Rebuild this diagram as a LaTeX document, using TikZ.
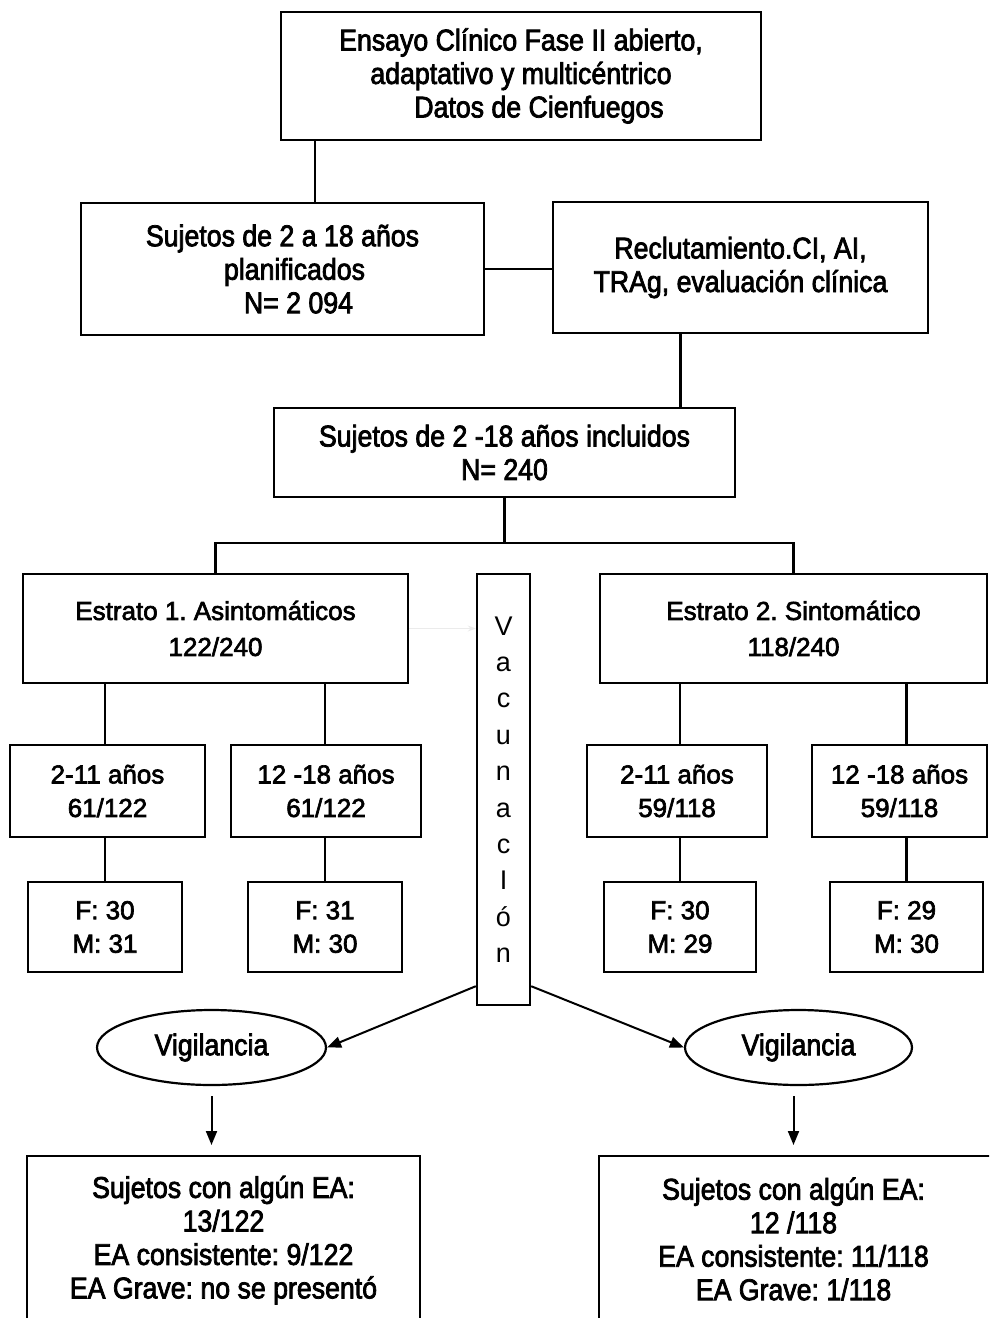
\documentclass[tikz,border=0pt]{standalone}
\usepackage{fontspec}
\setmainfont{Liberation Sans}
\newfontfamily\condf[FakeStretch=0.89,FakeBold=2.5]{Liberation Sans}
\newfontfamily\medf[FakeBold=2.5]{Liberation Sans}
\usetikzlibrary{arrows.meta,shapes.geometric}
\frenchspacing
\begin{document}
\begin{tikzpicture}[x=1pt,y=-1pt,
  box/.style={draw, line width=2.4pt, align=center, inner sep=0pt},
  tfont/.style={font=\condf\fontsize{30}{33.5}\selectfont},
  lfont/.style={font=\medf\fontsize{26}{33.5}\selectfont},
  efont/.style={font=\medf\fontsize{26}{36}\selectfont},
  link/.style={line width=2.2pt},
  arr/.style={line width=2pt, -{Triangle[length=14pt,width=11pt]}},
  oval/.style={draw, ellipse, line width=2.2pt, inner sep=0pt}
]
\path[use as bounding box] (0,0) rectangle (989,1318);
\clip (0,0) rectangle (989,1318);

\node[box, tfont, minimum width=480pt, minimum height=128pt] (top) at (521,76)
  {Ensayo Clínico Fase II abierto,\\adaptativo y multicéntrico\\\hspace*{36pt}Datos de Cienfuegos};
\node[box, tfont, minimum width=403pt, minimum height=132pt] (plan) at (282.5,269)
  {Sujetos de 2 a 18 años\\\hspace*{24pt}planificados\\\hspace*{32pt}N= 2 094};
\node[box, tfont, minimum width=375pt, minimum height=131pt] (recl) at (740.5,267.5)
  {Reclutamiento.CI, AI,\\TRAg, evaluación clínica};
\node[box, tfont, minimum width=461pt, minimum height=89pt] (incl) at (504.5,452.5)
  {Sujetos de 2 -18 años incluidos\\N= 240};

\node[box, efont, minimum width=385pt, minimum height=109pt] (e1) at (215.5,628.5)
  {Estrato 1. Asintomáticos\\122/240};
\node[box, efont, minimum width=387pt, minimum height=109pt] (e2) at (793.5,628.5)
  {Estrato 2. Sintomático\\118/240};
\node[box, font=\fontsize{27}{36.4}\selectfont, minimum width=53pt, minimum height=431pt] (vac) at (503.5,789.5)
  {V\\a\\c\\u\\n\\a\\c\\I\\ó\\n};

\node[box, lfont, minimum width=195pt, minimum height=92pt] (a1) at (107.5,791) {2-11 años\\61/122};
\node[box, lfont, minimum width=190pt, minimum height=92pt] (a2) at (326,791) {12 -18 años\\61/122};
\node[box, lfont, minimum width=180pt, minimum height=92pt] (a3) at (677,791) {2-11 años\\59/118};
\node[box, lfont, minimum width=175pt, minimum height=92pt] (a4) at (899.5,791) {12 -18 años\\59/118};

\node[box, lfont, minimum width=154pt, minimum height=90pt] (f1) at (105,927) {F: 30\\M: 31};
\node[box, lfont, minimum width=154pt, minimum height=90pt] (f2) at (325,927) {F: 31\\M: 30};
\node[box, lfont, minimum width=152pt, minimum height=90pt] (f3) at (680,927) {F: 30\\M: 29};
\node[box, lfont, minimum width=153pt, minimum height=90pt] (f4) at (906.5,927) {F: 29\\M: 30};

\node[oval, tfont, minimum width=229pt, minimum height=75pt] (vl) at (211.5,1047.5) {Vigilancia};
\node[oval, tfont, minimum width=227pt, minimum height=75pt] (vr) at (798.5,1047.5) {Vigilancia};

\node[box, tfont, minimum width=393pt, minimum height=168pt, anchor=north] (bl) at (223.5,1155)
  {Sujetos con algún EA:\\13/122\\EA consistente: 9/122\\EA Grave: no se presentó};
\node[box, minimum width=410pt, minimum height=168pt, anchor=north west] (br) at (598,1155) {};
\node[tfont, align=center, inner sep=0pt] (brt) at (793.5,1239)
  {Sujetos con algún EA:\\12 /118\\EA consistente: 11/118\\EA Grave: 1/118};

% connectors
\coordinate (splitlevel) at (0,543);
\draw[link] ([xshift=35pt]top.south west) -- ([xshift=35pt]top.south west |- plan.north);
\draw[link] (plan.east) -- (plan.east -| recl.west);
\draw[link] ([xshift=-60pt]recl.south) -- ([xshift=-60pt]recl.south |- incl.north);
\draw[link] (incl.south) -- (incl.south |- splitlevel);
\draw[link] (e1.north) |- (incl.south |- splitlevel) -| (e2.north);
\draw[black!8, line width=1pt, -{Stealth[length=8pt]}] (e1.east) -- (e1.east -| vac.west);

\draw[link] (f1.north |- e1.south) -- (f1.north |- a1.north);
\draw[link] (f2.north |- e1.south) -- (f2.north |- a2.north);
\draw[link] (f3.north |- e2.south) -- (f3.north |- a3.north);
\draw[link] (f4.north |- e2.south) -- (f4.north |- a4.north);
\draw[link] (f1.north |- a1.south) -- (f1.north);
\draw[link] (f2.north |- a2.south) -- (f2.north);
\draw[link] (f3.north |- a3.south) -- (f3.north);
\draw[link] (f4.north |- a4.south) -- (f4.north);

\draw[arr] ([yshift=20pt]vac.south west) -- (vl.east);
\draw[arr] ([yshift=20pt]vac.south east) -- (vr.west);
\draw[arr, shorten <=10pt, shorten >=10pt] (vl.south) -- (vl.south |- bl.north);
\draw[arr, shorten <=10pt, shorten >=10pt] ([xshift=-5pt]vr.south) -- ([xshift=-5pt]vr.south |- br.north);
\end{tikzpicture}
\end{document}
